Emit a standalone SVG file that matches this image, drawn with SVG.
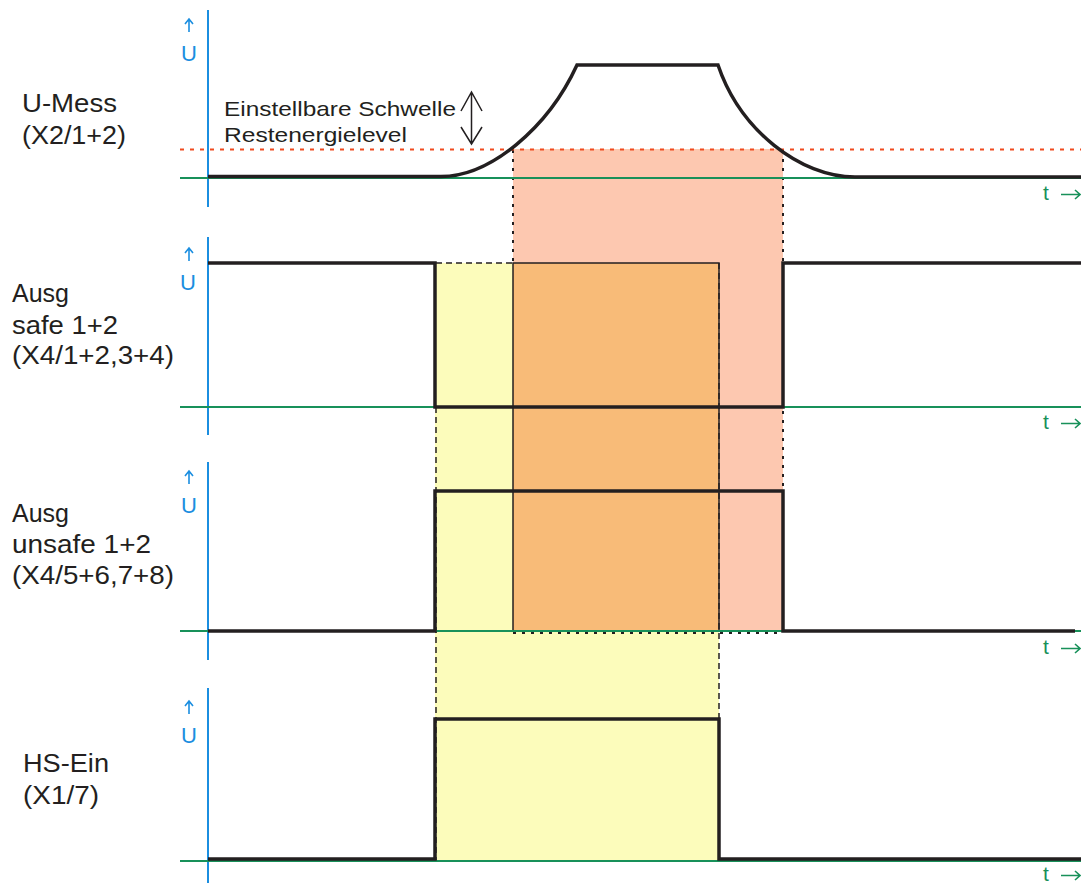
<svg xmlns="http://www.w3.org/2000/svg" width="1081" height="883" viewBox="0 0 1081 883">
<style>
.lbl{font-family:"Liberation Sans",Arial,sans-serif;font-size:25px;fill:#231f20}
.u{font-family:"Liberation Sans",Arial,sans-serif;font-size:22px;fill:#1b8ee0}
.t{font-family:"Liberation Sans",Arial,sans-serif;font-size:21px;fill:#18915a}
.tarr{stroke:#18915a;stroke-width:1.6;fill:none}
.axis{stroke:#1b8ee0;stroke-width:2;fill:none}
.base{stroke:#18915a;stroke-width:2;fill:none}
.sig{stroke:#231f20;stroke-width:3.5;fill:none;stroke-linejoin:miter}
.uarr{stroke:#1b8ee0;stroke-width:1.6;fill:none}
.dash{stroke:#231f20;stroke-width:1.5;stroke-dasharray:6 4;fill:none}
.dot{stroke:#231f20;stroke-width:2;stroke-dasharray:3 6;fill:none}
</style>
<g id="areas">
<rect x="513" y="149" width="270" height="482" fill="#fdc8b0"/>
<rect x="435" y="263" width="284" height="598" fill="#fcfcbb"/>
<rect x="513" y="263" width="206" height="368" fill="#f8bb78" stroke="#231f20" stroke-width="1.5"/>
<path class="dot" d="M513,150 V263 M783,150 V631 M513,633 H783"/>
<path class="dash" d="M436,263 H513 M436,407 V861 M719,263 V861 M436,861 H719"/>
</g>
<g id="axes">
<line class="axis" x1="208" y1="10" x2="208" y2="207"/>
<line class="axis" x1="208" y1="237" x2="208" y2="435"/>
<line class="axis" x1="208" y1="462" x2="208" y2="660"/>
<line class="axis" x1="208" y1="688" x2="208" y2="883"/>
<line class="base" x1="180" y1="178" x2="1081" y2="178"/>
<line class="base" x1="180" y1="407" x2="1081" y2="407"/>
<line class="base" x1="180" y1="631" x2="1081" y2="631"/>
<line class="base" x1="180" y1="861" x2="1081" y2="861"/>
<line x1="180" y1="149.5" x2="1081" y2="149.5" stroke="#f04a1e" stroke-width="1.8" stroke-dasharray="4 6"/>
<path class="uarr" d="M189,32 V19 M185,24 L189,19 L193,24"/>
<path class="uarr" d="M189,261 V248 M185,253 L189,248 L193,253"/>
<path class="uarr" d="M189,484 V471 M185,476 L189,471 L193,476"/>
<path class="uarr" d="M189,714 V701 M185,706 L189,701 L193,706"/>
<text class="u" x="181" y="61">U</text>
<text class="u" x="180" y="290">U</text>
<text class="u" x="181" y="513">U</text>
<text class="u" x="181" y="743">U</text>
<text class="t" x="1043" y="200">t</text>
<text class="t" x="1043" y="429">t</text>
<text class="t" x="1043" y="654">t</text>
<text class="t" x="1043" y="881">t</text>
<path class="tarr" d="M1061,194.5 H1080 M1075,190 L1080,194.5 L1075,199"/>
<path class="tarr" d="M1061,423.5 H1080 M1075,419 L1080,423.5 L1075,428"/>
<path class="tarr" d="M1061,648.5 H1080 M1075,644 L1080,648.5 L1075,653"/>
<path class="tarr" d="M1061,875.5 H1080 M1075,871 L1080,875.5 L1075,880"/>
</g>
<g id="u-mess">
<text class="lbl" x="22" y="112" textLength="95" lengthAdjust="spacingAndGlyphs">U-Mess</text>
<text class="lbl" x="22" y="144" textLength="104" lengthAdjust="spacingAndGlyphs">(X2/1+2)</text>
<path class="sig" d="M208,176.5 H440 C490,177 548,128 577,65 H718 C740,130 800,177 855,177 H1081"/>
<text class="lbl" x="224" y="116" style="font-size:21px" textLength="232" lengthAdjust="spacingAndGlyphs">Einstellbare Schwelle</text>
<text class="lbl" x="224" y="142" style="font-size:21px" textLength="183" lengthAdjust="spacingAndGlyphs">Restenergielevel</text>
<path d="M471.5,92 V144 M461,111 L471.5,92 L482,111 M461,127 L471.5,144 L482,127" stroke="#231f20" stroke-width="1.5" fill="none"/>
</g>
<g id="ausg-safe">
<text class="lbl" x="12" y="302">Ausg</text>
<text class="lbl" x="12" y="334" textLength="106" lengthAdjust="spacingAndGlyphs">safe 1+2</text>
<text class="lbl" x="12" y="364" textLength="162" lengthAdjust="spacingAndGlyphs">(X4/1+2,3+4)</text>
<path class="sig" d="M208,263 H435 V407 H783 V263 H1081"/>
</g>
<g id="ausg-unsafe">
<text class="lbl" x="12" y="522">Ausg</text>
<text class="lbl" x="12" y="553" textLength="139" lengthAdjust="spacingAndGlyphs">unsafe 1+2</text>
<text class="lbl" x="12" y="584" textLength="162" lengthAdjust="spacingAndGlyphs">(X4/5+6,7+8)</text>
<path class="sig" d="M208,631 H435 V491 H783 V631 H1075"/>
</g>
<g id="hs-ein">
<text class="lbl" x="23" y="772" textLength="86" lengthAdjust="spacingAndGlyphs">HS-Ein</text>
<text class="lbl" x="23" y="804" textLength="76" lengthAdjust="spacingAndGlyphs">(X1/7)</text>
<path class="sig" d="M208,859 H435 V719 H719 V859 H1081"/>
</g>
</svg>
